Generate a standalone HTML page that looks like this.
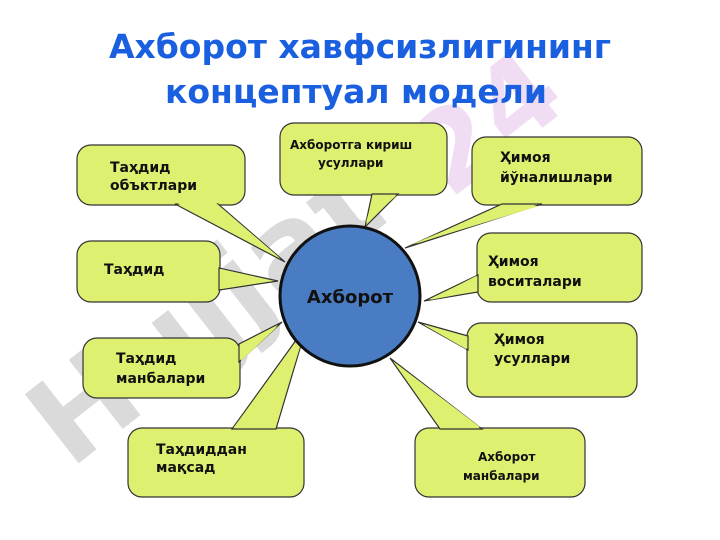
<!DOCTYPE html>
<html><head><meta charset="utf-8"><style>
html,body{margin:0;padding:0;background:#fff;}
svg{display:block;font-family:"DejaVu Sans","Liberation Sans",sans-serif;}
</style></head><body>
<svg width="720" height="540" viewBox="0 0 720 540" xmlns="http://www.w3.org/2000/svg">
<g opacity="0.3" fill="#888">
<text x="0" y="0" font-size="120" font-weight="bold" transform="translate(70,470) rotate(-38)">Hujjat</text>
</g>
<text x="0" y="0" font-size="110" font-weight="bold" fill="#e9c8ec" opacity="0.6" transform="translate(450,200) rotate(-38)">24</text>

<text x="360" y="58" text-anchor="middle" font-size="33" font-weight="bold" fill="#1a5fe0">Ахборот хавфсизлигининг</text>
<text x="356" y="103" text-anchor="middle" font-size="33" font-weight="bold" fill="#1a5fe0">концептуал модели</text>

<g fill="#dff070" stroke="#333" stroke-width="1.2">
<rect x="77" y="145" width="168" height="60" rx="14"/>
<polygon points="175,204 218,204 285,262"/>
<rect x="280" y="123" width="167" height="72" rx="14"/>
<polygon points="372,194 398,194 365,227"/>
<rect x="472" y="137" width="170" height="68" rx="14"/>
<polygon points="502,204 542,204 405,248"/>
<rect x="77" y="241" width="143" height="61" rx="14"/>
<polygon points="219,268 219,290 278,281"/>
<rect x="477" y="233" width="165" height="69" rx="14"/>
<polygon points="478,275 478,292 424,301"/>
<rect x="467" y="323" width="170" height="74" rx="14"/>
<polygon points="468,336 468,350 418,322"/>
<rect x="83" y="338" width="157" height="60" rx="14"/>
<polygon points="239,344 239,362 282,322"/>
<rect x="128" y="428" width="176" height="69" rx="14"/>
<polygon points="232,429 276,429 307,325"/>
<rect x="415" y="428" width="170" height="69" rx="14"/>
<polygon points="440,429 482,429 390,358"/>
</g>
<g fill="#dff070">
<polygon points="177,203 216,203 280,258"/>
<polygon points="374,196 396,196 366,222"/>
<polygon points="505,206 539,206 410,245"/>
<polygon points="221,269 221,289 272,281"/>
<polygon points="476,276 476,291 430,300"/>
<polygon points="466,337 466,349 424,325"/>
<polygon points="241,345 241,361 278,326"/>
<polygon points="234,427 274,427 305,332"/>
<polygon points="442,427 480,427 394,362"/>
</g>

<circle cx="350" cy="296" r="70" fill="#4a7cc4" stroke="#111" stroke-width="3"/>
<text x="350" y="303" text-anchor="middle" font-size="18" font-weight="bold" fill="#111">Ахборот</text>

<g font-size="14" font-weight="bold" fill="#111">
<text x="110" y="172">Таҳдид</text><text x="110" y="190">объктлари</text>
<text x="500" y="162">Ҳимоя</text><text x="500" y="182">йўналишлари</text>
<text x="104" y="274">Таҳдид</text>
<text x="488" y="266">Ҳимоя</text><text x="488" y="286">воситалари</text>
<text x="494" y="344">Ҳимоя</text><text x="494" y="363">усуллари</text>
<text x="116" y="363">Таҳдид</text><text x="116" y="383">манбалари</text>
<text x="156" y="454">Таҳдиддан</text><text x="156" y="472">мақсад</text>
</g>
<g font-size="12" font-weight="bold" fill="#111">
<text x="290" y="149">Ахборотга кириш</text><text x="318" y="167">усуллари</text>
<text x="478" y="461">Ахборот</text><text x="463" y="480">манбалари</text>
</g>
</svg>
</body></html>
